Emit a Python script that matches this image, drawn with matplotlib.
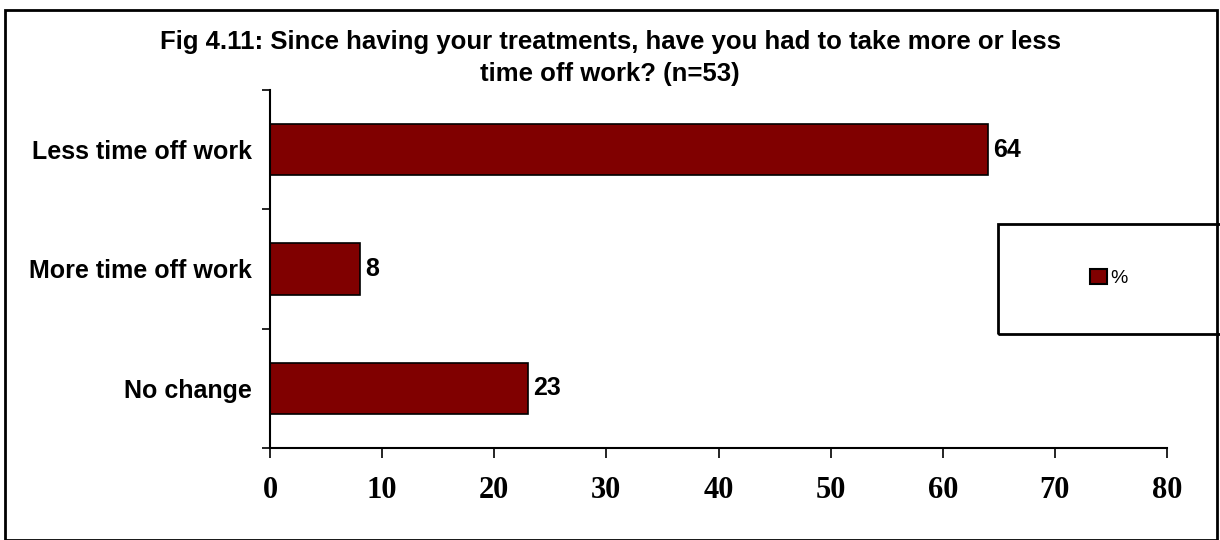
import matplotlib
matplotlib.use("Agg")
from matplotlib import pyplot as plt
from matplotlib.patches import Rectangle, Patch

categories = ["Less time off work", "More time off work", "No change"]
percent = [64, 8, 23]
x_ticks = [0, 10, 20, 30, 40, 50, 60, 70, 80]
title = "Fig 4.11: Since having your treatments, have you had to take more or less\ntime off work? (n=53)"

fig = plt.figure(figsize=(12.2, 5.4), dpi=100)
ax = fig.add_axes([270 / 1220, 1 - 448 / 540, (1167 - 270) / 1220, (448 - 90) / 540])

pos = list(range(len(categories)))
bars = ax.barh(pos, percent, height=0.43, color="#800000", edgecolor="black", linewidth=1.2)

for b, v in zip(bars, percent):
    ax.text(b.get_width() + 0.5, b.get_y() + b.get_height() / 2, str(v),
            va="center", ha="left", fontsize=18, fontweight="bold", family="Liberation Sans")

ax.set_xlim(0, 80)
ax.set_ylim(len(categories) - 0.5, -0.5)
ax.set_xticks(x_ticks)
ax.set_xticklabels([str(t) for t in x_ticks], family="Liberation Serif", fontweight="bold", fontsize=22)
ax.tick_params(axis="x", direction="out", length=7, width=1.2, pad=13)

# tick marks at the category boundaries, labels in the middle
ax.set_yticks([p - 0.5 for p in pos] + [pos[-1] + 0.5])
ax.set_yticklabels([])
ax.tick_params(axis="y", which="major", direction="out", length=6, width=1.2)
ax.set_yticks(pos, minor=True)
ax.set_yticklabels(categories, minor=True, family="Liberation Sans", fontweight="bold", fontsize=18)
ax.tick_params(axis="y", which="minor", length=0, pad=13)

for s in ["top", "right"]:
    ax.spines[s].set_visible(False)
for s in ["left", "bottom"]:
    ax.spines[s].set_linewidth(1.5)

fig.text(0.5, 1 - 58 / 540, title, ha="center", va="center", fontsize=18.5,
         fontweight="bold", family="Liberation Sans", linespacing=1.4)

# outer frame
fig.patches.append(Rectangle((5 / 1220, 0), 1212 / 1220, 1 - 10 / 540, transform=fig.transFigure,
                             fill=False, edgecolor="black", linewidth=2))

# legend box
fig.patches.append(Rectangle((998 / 1220, 1 - 334 / 540), 230 / 1220, 110 / 540, transform=fig.transFigure,
                             fill=False, edgecolor="black", linewidth=2))
fig.legend(handles=[Patch(facecolor="#800000", edgecolor="black", linewidth=1.5, label="%")],
           loc="center", bbox_to_anchor=(1109 / 1220, 1 - 278 / 540), frameon=False,
           handlelength=0.85, handleheight=0.85, handletextpad=0.2,
           prop={"family": "Liberation Sans", "size": 14})

fig.savefig("out.png", dpi=100)
